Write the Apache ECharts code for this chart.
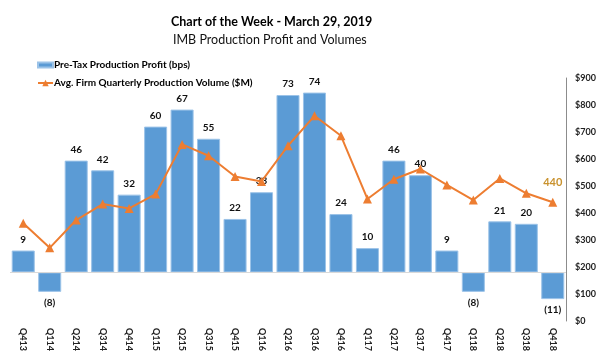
<!DOCTYPE html>
<html>
<head>
<meta charset="utf-8">
<script src="https://cdn.jsdelivr.net/npm/echarts@6/dist/echarts.min.js"></script>
<style>html,body{margin:0;padding:0;background:#fff}#c{width:600px;height:358px}</style>
</head>
<body>
<div id="c"></div>
<script>
const categories = ['Q413','Q114','Q214','Q314','Q414','Q115','Q215','Q315','Q415','Q116','Q216','Q316','Q416','Q117','Q217','Q317','Q417','Q118','Q218','Q318','Q418'];
const profitBps = [9, -8, 46, 42, 32, 60, 67, 55, 22, 33, 73, 74, 24, 10, 46, 40, 9, -8, 21, 20, -11];
const volumeM = [362, 271, 374, 433, 417, 470, 654, 612, 535, 517, 649, 760, 686, 452, 525, 563, 504, 448, 528, 473, 440];
const volumeTicks = [0, 900, 100];

const FONT = 'Lato, "Liberation Sans", sans-serif';
const chart = echarts.init(document.getElementById('c'));
chart.setOption({
  animation: false,
  textStyle: { fontFamily: FONT },
  title: [
    {
      text: 'Chart of the Week - March 29, 2019',
      left: 166, top: 10,
      textStyle: { fontSize: 12.5, fontWeight: 'bold', color: '#000', fontFamily: FONT }
    },
    {
      text: 'IMB Production Profit and Volumes',
      left: 168, top: 28,
      textStyle: { fontSize: 12.5, fontWeight: 'normal', color: '#111', fontFamily: FONT }
    }
  ],
  legend: {
    orient: 'vertical',
    left: 32,
    top: 55,
    itemGap: 8,
    itemWidth: 15,
    itemHeight: 8,
    textStyle: { fontSize: 10, fontWeight: 'bold', color: '#000', fontFamily: FONT, padding: [0, 0, 0, -4] },
    data: [
      { name: 'Pre-Tax Production Profit (bps)', icon: 'path://M0,3 L15,3 L15,8 L0,8 Z' },
      { name: 'Avg. Firm Quarterly Production Volume ($M)' }
    ]
  },
  grid: { left: 10, right: 34, top: 78, bottom: 37 },
  xAxis: {
    type: 'category',
    data: categories,
    axisLine: { show: false },
    axisTick: { show: false },
    axisLabel: { rotate: -90, interval: 0, fontSize: 9, fontWeight: 'bold', color: '#222', margin: 7 }
  },
  yAxis: [
    { type: 'value', min: -20, max: 80, show: false, splitLine: { show: false } },
    {
      type: 'value', position: 'right',
      min: volumeTicks[0], max: volumeTicks[1], interval: volumeTicks[2],
      axisLine: { show: true, lineStyle: { color: '#8c8c8c' } },
      axisTick: { show: false },
      splitLine: { show: false },
      axisLabel: { formatter: v => '$' + v, fontSize: 9, fontWeight: 'bold', color: '#222', margin: 9 }
    }
  ],
  series: [
    {
      name: 'Pre-Tax Production Profit (bps)',
      type: 'bar',
      yAxisIndex: 0,
      barCategoryGap: '13%',
      itemStyle: { color: '#5B9BD5', borderColor: '#9CC3E8', borderWidth: 1 },
      label: {
        show: true, fontSize: 10, fontWeight: 'bold', color: '#111', distance: 6,
        formatter: p => p.value < 0 ? '(' + (-p.value) + ')' : String(p.value)
      },
      data: profitBps.map(v => ({ value: v, label: { position: v < 0 ? 'bottom' : 'top' } })),
      markLine: {
        silent: true, symbol: 'none', label: { show: false },
        lineStyle: { color: '#D9D9D9', width: 1, type: 'solid' },
        data: [{ yAxis: 0 }]
      }
    },
    {
      name: 'Avg. Firm Quarterly Production Volume ($M)',
      type: 'line',
      yAxisIndex: 1,
      symbol: 'triangle',
      symbolSize: 9,
      lineStyle: { color: '#ED7D31', width: 2 },
      itemStyle: { color: '#ED7D31' },
      label: { show: false, position: 'top', distance: 10, fontSize: 11, fontWeight: 'bold', color: '#C9922E' },
      data: volumeM.map((v, i) => i === volumeM.length - 1 ? { value: v, label: { show: true } } : v)
    }
  ]
});
</script>
</body>
</html>
